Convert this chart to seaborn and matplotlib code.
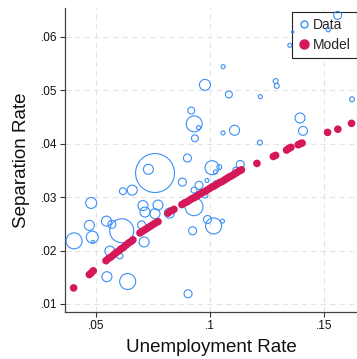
import matplotlib
matplotlib.use("Agg")
import matplotlib.pyplot as plt
from matplotlib.lines import Line2D
import pandas as pd
import seaborn as sns

# Observed (bubble size = weight of each observation)
data_unemp = [0.1560, 0.1363, 0.1519, 0.1350, 0.1058, 0.0978, 0.1083, 0.1288, 0.1293, 0.1221,
              0.1623, 0.0918, 0.0931, 0.0950, 0.0934, 0.1057, 0.1108, 0.1395, 0.1408, 0.1219,
              0.0901, 0.1009, 0.1024, 0.1041, 0.1133, 0.1113, 0.0879, 0.0987, 0.1026, 0.0952,
              0.0930, 0.0978, 0.0759, 0.0730, 0.0618, 0.0659, 0.0479, 0.0706, 0.0715, 0.0772,
              0.0759, 0.0822, 0.0930, 0.0989, 0.1016, 0.1055, 0.0924, 0.0904, 0.0471, 0.0546,
              0.0570, 0.0613, 0.0700, 0.0711, 0.0404, 0.0484, 0.0487, 0.0561, 0.0605, 0.0548, 0.0639]
data_sep = [0.0640, 0.0609, 0.0613, 0.0584, 0.0544, 0.0510, 0.0492, 0.0517, 0.0508, 0.0488,
            0.0483, 0.0462, 0.0437, 0.0430, 0.0410, 0.0420, 0.0425, 0.0448, 0.0424, 0.0402,
            0.0373, 0.0355, 0.0347, 0.0356, 0.0361, 0.0350, 0.0328, 0.0331, 0.0325, 0.0322,
            0.0313, 0.0304, 0.0345, 0.0352, 0.0311, 0.0313, 0.0289, 0.0284, 0.0272, 0.0285,
            0.0269, 0.0270, 0.0282, 0.0258, 0.0246, 0.0255, 0.0237, 0.0119, 0.0247, 0.0255,
            0.0249, 0.0237, 0.0248, 0.0216, 0.0218, 0.0225, 0.0216, 0.0199, 0.0190, 0.0151, 0.0142]
data_weight = [16, 1.4, 4, 4, 4, 30, 12, 6, 6, 4,
               6, 12, 64, 4, 12, 4, 25, 25, 20, 6,
               16, 49, 4, 6, 16, 9, 16, 4, 9, 16,
               9, 9, 380, 25, 12, 25, 30, 25, 25, 25,
               25, 25, 81, 16, 64, 4, 16, 16, 25, 25,
               16, 144, 16, 25, 64, 36, 2.25, 25, 9, 25, 64]

# Model predictions
model_unemp = [0.0402, 0.0471, 0.0479, 0.0488,
               0.0544, 0.0555, 0.0566, 0.0577, 0.0588, 0.0599, 0.0610, 0.0621, 0.0632, 0.0643, 0.0654, 0.0662,
               0.0693, 0.0704, 0.0715, 0.0726, 0.0737, 0.0748, 0.0759, 0.0772,
               0.0816, 0.0829, 0.0842,
               0.0877, 0.0888, 0.0899, 0.0910, 0.0921, 0.0932, 0.0943, 0.0954, 0.0965, 0.0976,
               0.0987, 0.0998, 0.1009, 0.1020, 0.1031, 0.1042, 0.1053, 0.1064, 0.1075, 0.1086,
               0.1096, 0.1107, 0.1118, 0.1129, 0.1138,
               0.1206, 0.1278, 0.1288, 0.1336, 0.1346, 0.1355, 0.1387, 0.1397, 0.1404,
               0.1516, 0.1561, 0.1621]
model_sep = [0.0130, 0.0155, 0.0158, 0.0162,
             0.0181, 0.0185, 0.0188, 0.0192, 0.0196, 0.0199, 0.0203, 0.0206, 0.0210, 0.0214, 0.0217, 0.0220,
             0.0233, 0.0236, 0.0239, 0.0242, 0.0245, 0.0248, 0.0251, 0.0254,
             0.0270, 0.0274, 0.0277,
             0.0286, 0.0289, 0.0291, 0.0294, 0.0297, 0.0299, 0.0302, 0.0305, 0.0308, 0.0310,
             0.0313, 0.0316, 0.0319, 0.0321, 0.0324, 0.0327, 0.0329, 0.0332, 0.0335, 0.0338,
             0.0340, 0.0343, 0.0346, 0.0349, 0.0351,
             0.0363, 0.0376, 0.0378, 0.0388, 0.0391, 0.0393, 0.0398, 0.0400, 0.0401,
             0.0421, 0.0427, 0.0438]

x_ticks = [0.05, 0.10, 0.15]
x_tick_labels = [".05", ".1", ".15"]
y_ticks = [0.01, 0.02, 0.03, 0.04, 0.05, 0.06]
y_tick_labels = [".01", ".02", ".03", ".04", ".05", ".06"]

BLUE = "#3b8ff5"
CRIMSON = "#d4185a"

sns.set_theme(style="white")
plt.rcParams["font.family"] = ["Liberation Sans", "DejaVu Sans"]

data_df = pd.DataFrame({"unemp": data_unemp, "sep": data_sep, "weight": data_weight})
model_df = pd.DataFrame({"unemp": model_unemp, "sep": model_sep})

fig = plt.figure(figsize=(3.57, 3.59), dpi=100)
ax = fig.add_axes([0.182, 0.131, 0.818, 0.847])

# weight is proportional to bubble area; convert to marker area in pt^2
area_k = 2.07
wmin, wmax = min(data_weight), max(data_weight)
sns.scatterplot(data=data_df, x="unemp", y="sep", size="weight",
                sizes=(wmin * area_k, wmax * area_k), size_norm=(wmin, wmax),
                facecolor="none", edgecolor=BLUE, linewidth=0.8,
                legend=False, ax=ax, zorder=3)
sns.scatterplot(data=model_df, x="unemp", y="sep", s=30, color=CRIMSON,
                edgecolor="none", linewidth=0, legend=False, ax=ax, zorder=4)

ax.set_xlim(0.0364, 0.1645)
ax.set_ylim(0.0085, 0.0654)
ax.set_xticks(x_ticks)
ax.set_xticklabels(x_tick_labels)
ax.set_yticks(y_ticks)
ax.set_yticklabels(y_tick_labels)
ax.tick_params(axis="both", which="major", direction="out", length=3.5, width=0.8,
               color="#333333", labelsize=8.5, labelcolor="#111111", pad=2,
               left=True, bottom=True)

ax.grid(True, linestyle=(0, (5, 3.5)), color="#e4e4e4", linewidth=0.8)
ax.set_axisbelow(True)
for side in ("top", "right"):
    ax.spines[side].set_visible(False)
for side in ("left", "bottom"):
    ax.spines[side].set_color("#444444")
    ax.spines[side].set_linewidth(0.9)

ax.set_xlabel("Unemployment Rate", fontsize=13.5, color="#111111", labelpad=5)
ax.set_ylabel("Separation Rate", fontsize=13.5, color="#111111", labelpad=8)

handles = [
    Line2D([], [], marker="o", linestyle="none", markerfacecolor="none",
           markeredgecolor=BLUE, markeredgewidth=1.0, markersize=5, label="Data"),
    Line2D([], [], marker="o", linestyle="none", markerfacecolor=CRIMSON,
           markeredgecolor=CRIMSON, markersize=6.5, label="Model"),
]
leg = ax.legend(handles=handles, loc="upper right", bbox_to_anchor=(0.999, 0.985),
                fontsize=10, frameon=True, fancybox=False, framealpha=1,
                edgecolor="#222222", borderpad=0.4, handletextpad=0.3,
                handlelength=0.8, labelspacing=0.45, borderaxespad=0.0)
leg.get_frame().set_linewidth(0.8)
# keep the markers drawn above the legend box
leg.set_zorder(2.5)

fig.savefig("out.png", dpi=100)
